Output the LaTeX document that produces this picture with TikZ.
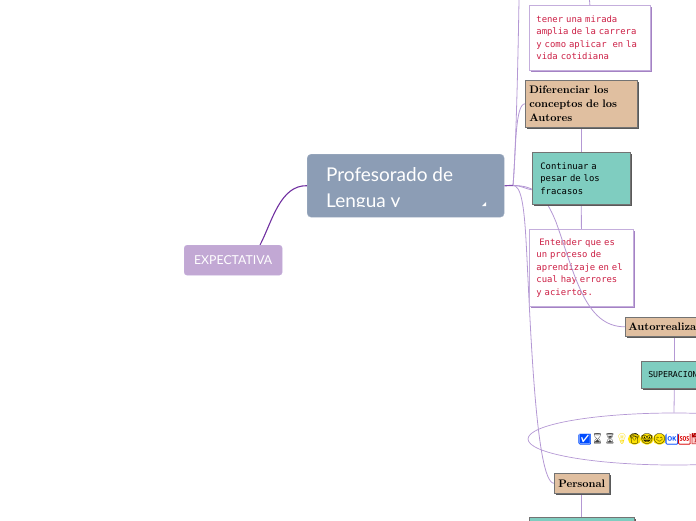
\documentclass[tikz,border=0pt]{standalone}
\usepackage{fontspec}
\usetikzlibrary{shapes.geometric,shadows,backgrounds}
\newfontfamily\titulofont{Lato}
\newfontfamily\pixelfont{DejaVu Sans Mono}
\newfontfamily\emojifont{Noto Emoji}
\definecolor{pizarra}{HTML}{8C9DB5}
\definecolor{lila}{HTML}{C2A8D4}
\definecolor{lilaborde}{HTML}{C4AEDC}
\definecolor{lilasombra}{HTML}{A482C4}
\definecolor{rama}{HTML}{B498D4}
\definecolor{ramafuerte}{HTML}{7030A0}
\definecolor{arena}{HTML}{E0BFA0}
\definecolor{turquesa}{HTML}{7FCDC0}
\definecolor{carmin}{HTML}{CC1F45}
\begin{document}
\begin{tikzpicture}[x=1pt, y=-1pt,
	raiz/.style   = {draw=pizarra!80!white, fill=pizarra, rounded corners=4pt, anchor=north west,
		minimum width=197pt, minimum height=63pt, inner sep=0pt},
	hijo/.style   = {draw=lilaborde, fill=lila, rounded corners=3pt, anchor=north west,
		minimum width=98pt, minimum height=30pt, inner sep=0pt, text=white,
		font=\fontsize{12.3}{14}\selectfont\titulofont},
	nota/.style   = {draw=lilaborde, line width=0.8pt, fill=white, anchor=north west, inner sep=0pt,
		align=left, text=carmin, font=\fontsize{8.9}{12.5}\selectfont\pixelfont,
		drop shadow={shadow xshift=2pt, shadow yshift=-2pt, fill=lilasombra, opacity=1}},
	tema/.style   = {draw=black!55, line width=0.6pt, fill=arena, anchor=north west, inner sep=0pt,
		align=left, font=\fontsize{10.9}{14}\selectfont\bfseries,
		drop shadow={shadow xshift=1.5pt, shadow yshift=-1.5pt, fill=black!65, opacity=1}},
	idea/.style   = {draw=black!55, line width=0.6pt, fill=turquesa, anchor=north west, inner sep=0pt,
		align=left, font=\fontsize{8.9}{12.5}\selectfont\pixelfont,
		drop shadow={shadow xshift=1.5pt, shadow yshift=-1.5pt, fill=black!65, opacity=1}},
	lazo/.style   = {draw=rama, line width=0.8pt},
	tronco/.style = {draw=ramafuerte!70!rama, line width=1.2pt},
	emoji/.style  = {inner sep=0pt, minimum size=11pt, font=\fontsize{10.5}{10.5}\selectfont\emojifont},
	]
	
	%% ── Marco ────────────────────────────────────────────────────────────────
	\useasboundingbox (0,0) rectangle (696,520);
	\clip (0,0) rectangle (696,520);
	
	%% ── Centro ───────────────────────────────────────────────────────────────
	\node[raiz](centro) at (307,154) {};
	\begin{scope}
		\clip (307,154) rectangle (504,206);
		\node[anchor=north west, inner sep=0pt, align=left, text=white,
			font=\fontsize{19}{26}\selectfont\titulofont](titulo) at (326,167) {Profesorado de\\Lengua y};
	\end{scope}
	\fill[white] (486,202)--(486,206)--(482,206)--cycle;
	\node[hijo](expectativa) at (184,245) {EXPECTATIVA};
	
	%% ── Nodos de la derecha ──────────────────────────────────────────────────
	\node[nota, minimum width=121pt, minimum height=65pt, text width=107pt](tener) at (529,5)
		{tener una mirada\\amplia de la carrera\\y como aplicar~ en la\\vida cotidiana};
	\node[tema, minimum width=112pt, minimum height=47pt, text width=104pt](diferenciar) at (525,80)
		{Diferenciar los\\conceptos de los\\Autores};
	\node[nota, minimum width=104pt, minimum height=77pt, text width=90pt](entender) at (529,229)
		{~Entender que es\\un proceso de\\aprendizaje en el\\cual hay errores\\y aciertos.};
	\node[tema, minimum width=98pt, minimum height=19pt, text width=92pt](autor) at (625,317)
		{Autorrealización};
	\node[idea, minimum width=66pt, minimum height=27pt, text width=52pt,
		font=\fontsize{8.2}{12.5}\selectfont\pixelfont](superacion) at (641,361)
		{SUPERACION};
	\node[ellipse, draw=rama, line width=0.7pt, minimum width=292pt, minimum height=52pt](elipse) at (674,439) {};
	\node[tema, minimum width=55pt, minimum height=20pt, text width=47pt](personal) at (554,473)
		{Personal};
	\node[idea, minimum width=105pt, minimum height=30pt](ultimo) at (529,517) {};
	
	%% ── Emojis ───────────────────────────────────────────────────────────────
	\foreach \px/\glifo/\fondo/\tinta/\radio [count=\n] in {
		585/☑/blue!70!cyan/white/1.5, 597.5/⌛/white/black!75/0, 610/⏳/white/black!75/0,
		622/💡/white/yellow!80!orange/0, 634.5/👳/yellow!85!orange/black/5.5,
		647/🤓/yellow!85!orange/black/5.5, 659.5/😊/yellow!85!orange/black/5.5,
		672/🆗/blue!70!cyan/white/1.5, 684.5/🆘/red!85!black/white/1.5, 697/📅/red!20/red!70!black/1.5}
		\node[emoji, fill=\fondo, text=\tinta, rounded corners=\radio pt](emo\n) at (\px,439) {\glifo};
	
	%% ── Tronco y ramas ───────────────────────────────────────────────────────
	\coordinate (nudo) at (513,185.5);
	\coordinate (arriba) at (519,0);
	\coordinate (arribaTener) at (589.5,0);
	\coordinate (llegaContinuar) at (533,190);
	\coordinate (llegaExpectativa) at (260,245);
	
	%% esta pasa por encima de "entender" y por debajo de "continuar"
	\draw[lazo] (nudo) .. controls (535,185.5) and (545,195) .. (556,222)
		.. controls (575,275) and (585,327) .. (autor.west);
	\node[idea, minimum width=98pt, minimum height=52pt, text width=82pt](continuar) at (532,152)
		{Continuar a\\pesar de los\\fracasos};
	
	\begin{scope}[on background layer]
		\draw[lazo] (nudo) .. controls (516,150) and (518,60) .. (arriba);
		\draw[lazo] (nudo) .. controls (516,150) and (515,104) .. (diferenciar.west);
		\draw[lazo] (nudo) .. controls (522,185.5) and (525,189) .. (llegaContinuar);
		\draw[lazo] (nudo) .. controls (521,185.5) and (524,205) .. (526,240)
			.. controls (530,310) and (535,483) .. (personal.west);
		\draw[tronco] (centro.east) -- (nudo);
		\draw[draw=ramafuerte, line width=1.1pt] (centro.west)
			.. controls (280,185) and (272,222) .. (llegaExpectativa);
		\draw[lazo] (arribaTener) -- (tener.north);
		\draw[lazo] (diferenciar.south) -- (continuar.north);
		\draw[lazo] (continuar.south) -- (entender.north);
		\draw[lazo] (autor.south) -- (superacion.north);
		\draw[lazo] (superacion.south) -- (elipse.north);
		\draw[lazo] (personal.south) -- (ultimo.north);
	\end{scope}
\end{tikzpicture}
\end{document}
